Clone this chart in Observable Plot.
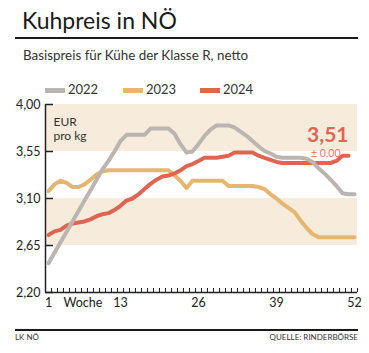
<!DOCTYPE html>
<html><head><meta charset="utf-8">
<script src="https://cdn.jsdelivr.net/npm/d3@7"></script>
<script src="https://cdn.jsdelivr.net/npm/@observablehq/plot@0.6"></script>
<style>
body{margin:0;background:#fff;font-family:Lato,"Open Sans",sans-serif;color:#222;}
#c{position:relative;width:369px;height:353px;overflow:hidden;background:#fff;}
#title{position:absolute;left:22px;top:9px;font-size:23px;line-height:1;color:#1a1a1a;white-space:nowrap;}
#rule1{position:absolute;left:15px;top:37px;width:343px;height:2px;background:#1a1a1a;}
#sub{position:absolute;left:23px;top:49px;font-size:13.4px;line-height:1;color:#333;white-space:nowrap;}
#legend{position:absolute;left:45px;top:83px;height:14px;font-size:13px;line-height:1;color:#333;}
.li{position:absolute;top:0;white-space:nowrap;}
.sw{position:absolute;top:5px;width:20px;height:5px;}
.lt{position:absolute;top:0;left:23px;}
#plot{position:absolute;left:0;top:80px;}
#rule2{position:absolute;left:15px;top:329px;width:343px;height:1.5px;background:#1a1a1a;}
.src{position:absolute;top:333px;font-size:8px;line-height:1;color:#333;white-space:nowrap;}
</style></head><body><div id="c">
<div id="title">Kuhpreis in NÖ</div>
<div id="rule1"></div>
<div id="sub">Basispreis für Kühe der Klasse R, netto</div>
<div id="legend"></div>
<div id="plot"></div>
<div id="rule2"></div>
<div class="src" style="left:15px">LK NÖ</div>
<div class="src" style="right:11px">QUELLE: RINDERBÖRSE</div>
</div>
<script>
const years = ["2022", "2023", "2024"];
const colors = ["#bab5b1", "#e5b66f", "#df6553"];
const legendX = [0, 78, 155];
const v2022 = [2.48,2.58,2.68,2.78,2.88,2.98,3.08,3.18,3.28,3.38,3.46,3.55,3.65,3.71,3.71,3.71,3.71,3.77,3.77,3.77,3.77,3.72,3.62,3.54,3.55,3.62,3.70,3.76,3.80,3.80,3.80,3.78,3.74,3.70,3.65,3.60,3.555,3.53,3.50,3.49,3.49,3.49,3.49,3.48,3.45,3.39,3.34,3.28,3.22,3.15,3.14,3.14];
const v2023 = [3.17,3.235,3.27,3.25,3.21,3.21,3.235,3.28,3.33,3.36,3.37,3.37,3.37,3.37,3.37,3.37,3.37,3.37,3.37,3.37,3.37,3.32,3.27,3.20,3.27,3.27,3.27,3.27,3.27,3.27,3.22,3.22,3.22,3.22,3.22,3.21,3.19,3.14,3.10,3.05,3.01,2.97,2.89,2.82,2.76,2.73,2.73,2.73,2.73,2.73,2.73,2.73];
const v2024 = [2.75,2.785,2.80,2.84,2.86,2.87,2.88,2.90,2.93,2.95,2.96,2.99,3.03,3.08,3.10,3.14,3.19,3.24,3.28,3.31,3.32,3.34,3.37,3.41,3.43,3.46,3.49,3.49,3.49,3.50,3.51,3.54,3.54,3.54,3.54,3.51,3.49,3.47,3.45,3.44,3.44,3.44,3.44,3.44,3.44,3.44,3.44,3.44,3.46,3.51,3.51];
const xTicks = [1, 13, 26, 39, 52];
const yTicks = [2.20, 2.65, 3.10, 3.55, 4.00];
const bands = [[3.55, 4.00], [2.65, 3.10]];
const unitLabel = "EUR\npro kg";
const axisLabel = "Woche";

const fmt = d => d.toFixed(2).replace(".", ",");
const series = {"2022": v2022, "2023": v2023, "2024": v2024};
const drawOrder = ["2023", "2024", "2022"];
const rows = [];
drawOrder.forEach(y => series[y].forEach((v, i) => rows.push({year: y, week: i + 1, value: v})));
const minorTicks = d3.range(0.5, 53, 1);
const last = v2024[v2024.length - 1];
const change = last - v2024[v2024.length - 2];
const changeText = (Math.abs(change) < 0.005 ? "± " : change > 0 ? "+ " : "– ") + fmt(Math.abs(change));

// legend
const lg = document.getElementById("legend");
years.forEach((y, k) => {
  const d = document.createElement("div");
  d.className = "li"; d.style.left = legendX[k] + "px";
  d.innerHTML = `<div class="sw" style="background:${colors[k]}"></div><div class="lt">${y}</div>`;
  lg.appendChild(d);
});

const chart = Plot.plot({
  width: 369, height: 240,
  marginLeft: 45, marginRight: 12, marginTop: 24, marginBottom: 28,
  style: {fontFamily: "Lato, sans-serif", fontSize: "12.5px", color: "#222", background: "transparent"},
  x: {domain: [0.5, 52.5]},
  y: {domain: [2.20, 4.00]},
  color: {domain: years, range: colors},
  marks: [
    Plot.rect(bands, {y1: d => d[0], y2: d => d[1], fill: "#f7ebdc"}),
    Plot.axisY({ticks: yTicks, tickFormat: fmt, tickSize: -8, tickPadding: 13, label: null, strokeWidth: 1.5, stroke: "#222"}),
    Plot.axisX({ticks: minorTicks, tickFormat: () => "", tickSize: -4, label: null, stroke: "#222"}),
    Plot.axisX({ticks: xTicks, tickSize: 0, tickPadding: 6, label: null}),
    Plot.ruleY([2.20], {stroke: "#222", strokeWidth: 1.5}),
    Plot.ruleX([0.5], {stroke: "#222", strokeWidth: 1.5}),
    Plot.text([axisLabel], {frameAnchor: "bottom-left", dx: 18, dy: 6, lineAnchor: "top", textAnchor: "start", fill: "#222"}),
    Plot.text([unitLabel], {frameAnchor: "top-left", dx: 8, dy: 11, lineAnchor: "top", textAnchor: "start", fontSize: 12, lineHeight: 1.2, fill: "#333"}),
    Plot.line(rows, {x: "week", y: "value", z: "year", stroke: "year", strokeWidth: 4, strokeLinejoin: "round"}),
    Plot.text([last], {text: fmt, frameAnchor: "top-right", dx: -9, dy: 23, fontSize: 21, fontWeight: "bold", fill: "#df6553", textAnchor: "end"}),
    Plot.text([changeText], {frameAnchor: "top-right", dx: -17, dy: 45, fontSize: 10.5, fill: "#e07a6b", textAnchor: "end"})
  ]
});
document.getElementById("plot").appendChild(chart);
</script>
</body></html>
